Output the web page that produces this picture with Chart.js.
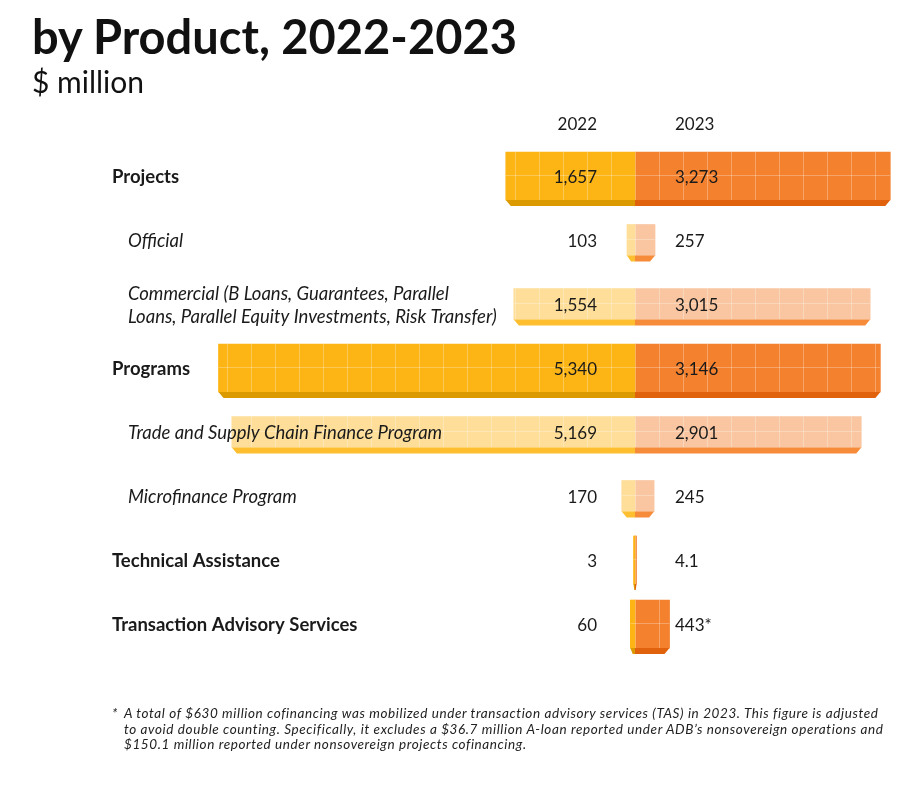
<!DOCTYPE html>
<html>
<head>
<meta charset="utf-8">
<script src="https://cdn.jsdelivr.net/npm/chart.js@4"></script>
<style>
  body { margin: 0; background: #fff; font-family: Lato, sans-serif; color: #111; }
  #wrap { position: relative; width: 918px; height: 800px; }
  #chart { position: absolute; left: 0; top: 0; }
  #title { position: absolute; left: 32px; top: 13px; font-size: 47px; line-height: 47px; font-weight: 700; white-space: nowrap; }
  #subtitle { position: absolute; left: 32px; top: 66px; font-size: 30px; line-height: 30px; white-space: nowrap; }
  #note { position: absolute; left: 112px; top: 706px; font-size: 13.5px; line-height: 15.5px; letter-spacing: 0.6px; font-style: italic; color: #222; white-space: nowrap; }
  #note span { position: absolute; left: 0; top: 0; }
  #note div { margin-left: 12px; }
</style>
</head>
<body>
<div id="wrap">
  <canvas id="chart" width="918" height="800"></canvas>
  <div id="title">by Product, 2022-2023</div>
  <div id="subtitle">$ million</div>
  <div id="note"><span>*</span><div>A total of $630 million cofinancing was mobilized under transaction advisory services (TAS) in 2023. This figure is adjusted<br>to avoid double counting. Specifically, it excludes a $36.7 million A-loan reported under ADB’s nonsovereign operations and<br>$150.1 million reported under nonsovereign projects cofinancing.</div></div>
</div>
<script>
// data
var categories = [
  "Projects",
  "Official",
  ["Commercial (B Loans, Guarantees, Parallel", "Loans, Parallel Equity Investments, Risk Transfer)"],
  "Programs",
  "Trade and Supply Chain Finance Program",
  "Microfinance Program",
  "Technical Assistance",
  "Transaction Advisory Services"
];
var mainRow = [true, false, false, true, false, false, true, true];
var years = ["2022", "2023"];
var values2022 = [1657, 103, 1554, 5340, 5169, 170, 3, 60];
var values2023 = [3273, 257, 3015, 3146, 2901, 245, 4.1, 443];
var labels2022 = ["1,657", "103", "1,554", "5,340", "5,169", "170", "3", "60"];
var labels2023 = ["3,273", "257", "3,015", "3,146", "2,901", "245", "4.1", "443*"];

// 2022 goes left (negative), 2023 goes right; main rows and sub rows get their own dataset
function pick(values, main, sign) {
  return values.map(function(v, i) { return mainRow[i] === main ? sign * v : null; });
}

var texturePlugin = {
  id: 'texture',
  afterDatasetsDraw: function(chart) {
    var ctx = chart.ctx;
    var zero = chart.scales.x.getPixelForValue(0);
    chart.data.datasets.forEach(function(ds, di) {
      var meta = chart.getDatasetMeta(di);
      meta.data.forEach(function(bar, i) {
        if (ds.data[i] == null) return;
        var p = bar.getProps(['x', 'y', 'base', 'height'], true);
        var left = Math.min(p.x, p.base), right = Math.max(p.x, p.base);
        var top = p.y - p.height / 2, bottom = p.y + p.height / 2;
        // grid lines on the face
        ctx.save();
        ctx.beginPath();
        ctx.rect(left, top, right - left, p.height);
        ctx.clip();
        ctx.strokeStyle = 'rgba(255,255,255,0.28)';
        ctx.lineWidth = 1;
        ctx.beginPath();
        for (var k = -30; k <= 30; k++) {
          var gx = Math.round(zero + k * 24) + 0.5;
          ctx.moveTo(gx, top); ctx.lineTo(gx, bottom);
        }
        var gy = Math.round(p.y) - 0.5;
        ctx.moveTo(left, gy); ctx.lineTo(right, gy);
        ctx.stroke();
        ctx.restore();
        // bottom edge
        var d = 6, cut = Math.min(5, (right - left) / 2);
        ctx.fillStyle = ds.edgeColor;
        ctx.beginPath();
        if (p.x < p.base) {
          ctx.moveTo(left, bottom); ctx.lineTo(right, bottom);
          ctx.lineTo(right, bottom + d); ctx.lineTo(left + cut, bottom + d);
        } else {
          ctx.moveTo(left, bottom); ctx.lineTo(right, bottom);
          ctx.lineTo(right - cut, bottom + d); ctx.lineTo(left, bottom + d);
        }
        ctx.closePath();
        ctx.fill();
      });
    });
  },
  afterDraw: function(chart) {
    var ctx = chart.ctx;
    var yScale = chart.scales.y;
    ctx.save();
    ctx.fillStyle = '#1a1a1a';
    ctx.textBaseline = 'middle';
    // column headers
    ctx.font = '17px Lato';
    ctx.textAlign = 'right';
    ctx.fillText(years[0], 597, 125);
    ctx.textAlign = 'left';
    ctx.fillText(years[1], 675, 125);
    categories.forEach(function(cat, i) {
      var y = yScale.getPixelForValue(i) + 1.5;
      ctx.textAlign = 'left';
      if (mainRow[i]) {
        ctx.font = 'bold 18.5px Lato';
        ctx.fillText(cat, 112, y);
      } else {
        ctx.font = 'italic 18.5px Lato';
        if (Array.isArray(cat)) {
          ctx.fillText(cat[0], 128, y - 11.5);
          ctx.fillText(cat[1], 128, y + 11.5);
        } else {
          ctx.fillText(cat, 128, y);
        }
      }
      ctx.font = '17px Lato';
      ctx.textAlign = 'right';
      ctx.fillText(labels2022[i], 597, y);
      ctx.textAlign = 'left';
      ctx.fillText(labels2023[i], 675, y);
    });
    ctx.restore();
  }
};

var ctx = document.getElementById('chart');
var myChart = new Chart(ctx, {
  type: 'bar',
  data: {
    labels: categories.map(function(c) { return Array.isArray(c) ? c.join(' ') : c; }),
    datasets: [
      { label: '2022', data: pick(values2022, true, -1), backgroundColor: '#FDB515', edgeColor: '#DB9A00', barThickness: 48 },
      { label: '2022 detail', data: pick(values2022, false, -1), backgroundColor: '#FEDE98', edgeColor: '#FDBF2F', barThickness: 31 },
      { label: '2023', data: pick(values2023, true, 1), backgroundColor: '#F4812E', edgeColor: '#E0620D', barThickness: 48 },
      { label: '2023 detail', data: pick(values2023, false, 1), backgroundColor: '#F9C6A1', edgeColor: '#F68B3A', barThickness: 31 }
    ]
  },
  options: {
    indexAxis: 'y',
    responsive: false,
    animation: false,
    layout: { padding: { left: 206, right: 10, top: 144, bottom: 144 } },
    datasets: { bar: { minBarLength: 1.5, borderWidth: 0 } },
    scales: {
      x: { stacked: true, min: -5500, max: 3500, display: false },
      y: { stacked: true, display: false }
    },
    plugins: {
      legend: { display: false },
      tooltip: { enabled: false }
    }
  },
  plugins: [texturePlugin]
});
</script>
</body>
</html>
